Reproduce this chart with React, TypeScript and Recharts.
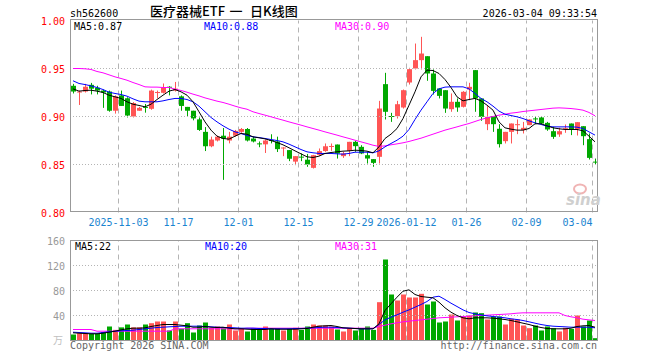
import React from "react";
import { ComposedChart, Bar, Line, XAxis, YAxis, ReferenceLine } from "recharts";

const dates = [
  "2025-10-22", "2025-10-23", "2025-10-24", "2025-10-27", "2025-10-28", "2025-10-29", "2025-10-30", "2025-10-31",
  "2025-11-03", "2025-11-04", "2025-11-05", "2025-11-06", "2025-11-07", "2025-11-10", "2025-11-11", "2025-11-12",
  "2025-11-13", "2025-11-14", "2025-11-17", "2025-11-18", "2025-11-19", "2025-11-20", "2025-11-21", "2025-11-24",
  "2025-11-25", "2025-11-26", "2025-11-27", "2025-11-28", "2025-12-01", "2025-12-02", "2025-12-03", "2025-12-04",
  "2025-12-05", "2025-12-08", "2025-12-09", "2025-12-10", "2025-12-11", "2025-12-12", "2025-12-15", "2025-12-16",
  "2025-12-17", "2025-12-18", "2025-12-19", "2025-12-22", "2025-12-23", "2025-12-24", "2025-12-25", "2025-12-26",
  "2025-12-29", "2025-12-30", "2025-12-31", "2026-01-05", "2026-01-06", "2026-01-07", "2026-01-08", "2026-01-09",
  "2026-01-12", "2026-01-13", "2026-01-14", "2026-01-15", "2026-01-16", "2026-01-19", "2026-01-20", "2026-01-21",
  "2026-01-22", "2026-01-23", "2026-01-26", "2026-01-27", "2026-01-28", "2026-01-29", "2026-01-30", "2026-02-02",
  "2026-02-03", "2026-02-04", "2026-02-05", "2026-02-06", "2026-02-09", "2026-02-10", "2026-02-11", "2026-02-12",
  "2026-02-13", "2026-02-24", "2026-02-25", "2026-02-26", "2026-02-27", "2026-03-02", "2026-03-03", "2026-03-04",
];

const openP = [
  0.932, 0.925, 0.926, 0.933, 0.930, 0.927, 0.926, 0.906, 0.922, 0.919,
  0.900, 0.906, 0.910, 0.908, 0.925, 0.9247, 0.931, 0.927, 0.921, 0.910,
  0.906, 0.897, 0.884, 0.869, 0.875, 0.880, 0.875, 0.880, 0.884, 0.887,
  0.877, 0.872, 0.871, 0.8755, 0.874, 0.8667, 0.865, 0.853, 0.8582, 0.855,
  0.8465, 0.860, 0.864, 0.8688, 0.8708, 0.8587, 0.8642, 0.8736, 0.8684, 0.8597,
  0.8556, 0.858, 0.9337, 0.9005, 0.9003, 0.9094, 0.9354, 0.950, 0.9587, 0.9628,
  0.9448, 0.9292, 0.9274, 0.9076, 0.9153, 0.9101, 0.9281, 0.9483, 0.9188, 0.892,
  0.9003, 0.8872, 0.8743, 0.884, 0.8915, 0.8858, 0.891, 0.898, 0.899, 0.8934,
  0.8847, 0.8813, 0.887, 0.8927, 0.8868, 0.8899, 0.8764, 0.853,
];
const highP = [
  0.934, 0.927, 0.934, 0.935, 0.932, 0.928, 0.927, 0.922, 0.927, 0.920,
  0.915, 0.910, 0.913, 0.928, 0.927, 0.9344, 0.9316, 0.936, 0.922, 0.910,
  0.906, 0.899, 0.889, 0.879, 0.880, 0.888, 0.884, 0.886, 0.888, 0.888,
  0.879, 0.874, 0.876, 0.8815, 0.879, 0.868, 0.865, 0.8587, 0.8615, 0.861,
  0.860, 0.8667, 0.8719, 0.8719, 0.8708, 0.8632, 0.8736, 0.8746, 0.8701, 0.8632,
  0.8556, 0.9163, 0.9455, 0.9038, 0.9163, 0.9281, 0.9507, 0.976, 0.983, 0.9628,
  0.949, 0.9292, 0.9274, 0.924, 0.9188, 0.9264, 0.9351, 0.9483, 0.9188, 0.9108,
  0.9003, 0.892, 0.884, 0.8927, 0.8969, 0.8944, 0.8969, 0.9003, 0.9003, 0.8944,
  0.8892, 0.8882, 0.8917, 0.8927, 0.8941, 0.8899, 0.8823, 0.8562,
];
const lowP = [
  0.924, 0.912, 0.925, 0.923, 0.923, 0.909, 0.905, 0.903, 0.911, 0.899,
  0.899, 0.906, 0.904, 0.907, 0.919, 0.924, 0.922, 0.926, 0.906, 0.900,
  0.896, 0.885, 0.864, 0.868, 0.874, 0.834, 0.872, 0.879, 0.883, 0.874,
  0.873, 0.868, 0.862, 0.872, 0.863, 0.8587, 0.8535, 0.8493, 0.8535, 0.8476,
  0.8458, 0.859, 0.8632, 0.8642, 0.8562, 0.8569, 0.8587, 0.8632, 0.8608, 0.851,
  0.8476, 0.851, 0.8969, 0.8944, 0.8979, 0.9083, 0.9333, 0.949, 0.949, 0.9372,
  0.9229, 0.9188, 0.9038, 0.9049, 0.9049, 0.9094, 0.917, 0.9049, 0.8955, 0.8858,
  0.884, 0.8677, 0.8719, 0.8719, 0.8816, 0.8823, 0.891, 0.892, 0.892, 0.8851,
  0.8767, 0.8788, 0.883, 0.8806, 0.8802, 0.8701, 0.8552, 0.8503,
];
const closeP = [
  0.926, 0.926, 0.931, 0.929, 0.927, 0.925, 0.906, 0.921, 0.911, 0.901,
  0.914, 0.909, 0.909, 0.927, 0.9255, 0.930, 0.930, 0.929, 0.911, 0.906,
  0.898, 0.886, 0.869, 0.876, 0.879, 0.877, 0.879, 0.885, 0.887, 0.875,
  0.874, 0.8715, 0.875, 0.875, 0.866, 0.8677, 0.856, 0.8587, 0.8578, 0.850,
  0.8597, 0.864, 0.869, 0.8693, 0.8615, 0.8615, 0.8736, 0.8691, 0.8615, 0.8562,
  0.8517, 0.9083, 0.9049, 0.900, 0.9128, 0.9274, 0.9493, 0.9587, 0.9656, 0.9448,
  0.9267, 0.9215, 0.9083, 0.9153, 0.9094, 0.9257, 0.9309, 0.9188, 0.8997, 0.8997,
  0.892, 0.8712, 0.884, 0.8927, 0.892, 0.8882, 0.8969, 0.8975, 0.8927, 0.8865,
  0.8788, 0.8847, 0.8878, 0.8865, 0.8941, 0.8795, 0.8569, 0.8525,
];
const ma5 = [
  0.9288, 0.9264, 0.9271, 0.9274, 0.9264, 0.925, 0.9222, 0.9205, 0.9188, 0.9153,
  0.9128, 0.9115, 0.9101, 0.9128, 0.9177, 0.9222, 0.9264, 0.9281, 0.9257, 0.9222,
  0.9153, 0.9049, 0.8944, 0.8858, 0.8795, 0.8771, 0.8764, 0.8795, 0.8823, 0.8816,
  0.8788, 0.8778, 0.8767, 0.875, 0.8729, 0.8705, 0.8674, 0.8642, 0.8611, 0.858,
  0.8573, 0.8587, 0.8615, 0.8625, 0.8632, 0.8639, 0.8642, 0.8649, 0.8646, 0.8639,
  0.8622, 0.8684, 0.8771, 0.8816, 0.8875, 0.8979, 0.9118, 0.9257, 0.9413, 0.9483,
  0.9479, 0.9448, 0.9385, 0.9302, 0.9205, 0.9163, 0.9177, 0.9188, 0.9163, 0.9118,
  0.9066, 0.8944, 0.8882, 0.8868, 0.8858, 0.8858, 0.8875, 0.8924, 0.8924, 0.8903,
  0.8882, 0.8872, 0.8865, 0.8865, 0.8865, 0.8851, 0.8795, 0.8736,
];
const ma10 = [
  0.9372, 0.9344, 0.9333, 0.9319, 0.9302, 0.9281, 0.9253, 0.924, 0.9229, 0.9212,
  0.9184, 0.916, 0.9153, 0.9153, 0.9153, 0.9163, 0.9177, 0.9188, 0.9188, 0.9177,
  0.9153, 0.9108, 0.9049, 0.899, 0.8944, 0.8903, 0.8868, 0.884, 0.8823, 0.8802,
  0.8788, 0.8781, 0.8771, 0.876, 0.875, 0.8736, 0.8712, 0.8684, 0.8656, 0.8632,
  0.8622, 0.8615, 0.8615, 0.8615, 0.8611, 0.8608, 0.8615, 0.8628, 0.8628, 0.8628,
  0.8622, 0.8642, 0.8684, 0.8719, 0.8753, 0.8795, 0.8865, 0.8969, 0.9066, 0.9153,
  0.924, 0.9288, 0.9306, 0.9309, 0.9309, 0.9309, 0.9288, 0.924, 0.9188, 0.9153,
  0.9108, 0.9056, 0.9024, 0.901, 0.8997, 0.8979, 0.8955, 0.8934, 0.8917, 0.8899,
  0.8892, 0.8892, 0.8892, 0.8892, 0.8889, 0.8875, 0.884, 0.8806,
];
const ma30 = [
  0.95, 0.95, 0.9497, 0.949, 0.9469, 0.9455, 0.9434, 0.9413, 0.9396, 0.9378,
  0.9354, 0.9333, 0.9309, 0.9306, 0.9306, 0.9302, 0.9302, 0.9285, 0.9271, 0.9253,
  0.9233, 0.9215, 0.9194, 0.9177, 0.916, 0.9146, 0.9128, 0.9108, 0.909, 0.9076,
  0.9049, 0.9031, 0.9014, 0.8997, 0.8979, 0.8962, 0.8944, 0.8927, 0.891, 0.8892,
  0.8875, 0.8858, 0.884, 0.8823, 0.8806, 0.8788, 0.8771, 0.8753, 0.8736, 0.8719,
  0.8701, 0.8688, 0.8694, 0.8705, 0.8715, 0.8726, 0.874, 0.8757, 0.8774, 0.8795,
  0.8816, 0.8837, 0.8858, 0.8875, 0.8892, 0.891, 0.8927, 0.8948, 0.8969, 0.8986,
  0.9, 0.9014, 0.9024, 0.9035, 0.9042, 0.9052, 0.9059, 0.9066, 0.9073, 0.908,
  0.9087, 0.909, 0.9087, 0.9083, 0.9076, 0.9066, 0.9042, 0.9007,
];

// 成交量（万手）
const volume = [
  9.6, 11.7, 11.7, 10.7, 10.7, 13.3, 22.4, 17, 21, 25.6,
  21, 21, 25.6, 27.7, 30.4, 30.4, 16, 30.4, 18.7, 27.7,
  12.8, 24, 28.8, 20.3, 22.4, 19.7, 25.6, 16, 19.7, 14.4,
  19.7, 18.7, 22.4, 18.7, 19.7, 16, 18.7, 20.3, 17, 22.4,
  25.6, 24, 24, 22.4, 17.6, 14.4, 19.7, 16, 18.7, 22.4,
  17, 61.3, 129.6, 73.6, 64, 73.6, 68.8, 68.8, 74.7, 57.6,
  62.4, 28.8, 30.4, 41.6, 32, 38.4, 40, 44.8, 43.7, 33.6,
  38.4, 38.4, 25.6, 34.7, 33.6, 24, 19.7, 24, 16, 22.4,
  19.7, 14.4, 20.3, 18.7, 40, 22.4, 32, 3.7,
];
const volMa5 = [
  12.3, 11.7, 11.2, 10.7, 10.7, 11.7, 13.3, 14.9, 17, 18.7,
  19.7, 19.7, 20.3, 22.4, 24, 25.6, 25.6, 25.6, 24.5, 23.5,
  21.3, 21.3, 22.4, 21.3, 20.8, 21.3, 19.7, 18.7, 18.7, 18.1,
  17.6, 17.6, 17.6, 18.7, 18.1, 18.1, 18.1, 18.1, 18.7, 19.2,
  21.3, 22.9, 23.5, 24, 22.4, 20.3, 19.7, 19.2, 18.7, 18.7,
  18.7, 26.7, 48, 58.7, 69.3, 78.9, 81.1, 73.6, 70.4, 69.3,
  68.3, 61.3, 52.3, 45.3, 40, 36.3, 34.7, 36.3, 36.3, 36.3,
  35.7, 34.7, 33.6, 32, 29.9, 27.7, 25.6, 22.9, 20.8, 19.2,
  18.7, 18.7, 18.7, 19.7, 22.4, 23.5, 24, 21.3,
];
const volMa10 = [
  13.3, 12.8, 12.3, 11.7, 11.7, 12.8, 13.9, 14.9, 15.5, 16,
  16.5, 17.6, 18.7, 19.7, 20.8, 21.3, 21.9, 22.4, 22.9, 22.9,
  22.9, 22.9, 22.4, 21.9, 21.3, 20.8, 20.8, 20.3, 19.7, 19.7,
  19.7, 19.2, 19.2, 18.7, 18.7, 18.7, 18.7, 19.2, 19.2, 19.7,
  20.3, 20.8, 21.3, 21.3, 20.8, 20.3, 19.7, 19.2, 18.7, 18.7,
  18.7, 25.6, 33, 37.3, 41, 45.3, 49, 53.3, 57.6, 62.4,
  69.3, 70.9, 65.6, 59.7, 54.4, 49, 44.8, 42.7, 41, 39.5,
  38.4, 37.3, 36.3, 34.7, 33.6, 32, 29.9, 27.7, 25.6, 24,
  22.9, 22.4, 21.9, 21.3, 21.3, 21.3, 21.3, 20.3,
];
const volMa30 = [
  17.6, 17.6, 17.6, 17.6, 14.9, 14.9, 14.9, 14.9, 14.9, 14.9,
  14.9, 14.9, 14.9, 14.9, 14.9, 14.9, 14.9, 18.7, 18.7, 18.7,
  18.7, 18.7, 18.7, 18.7, 18.7, 18.7, 18.7, 18.7, 18.7, 19.7,
  19.7, 19.7, 19.7, 19.7, 19.7, 19.7, 19.7, 19.7, 19.7, 19.7,
  19.7, 19.7, 19.7, 19.7, 19.7, 19.7, 19.7, 19.7, 19.7, 19.7,
  19.7, 22.4, 24.5, 26.7, 28.3, 29.9, 30.9, 32, 33, 34.1,
  35.2, 36.3, 36.8, 37.3, 37.9, 38.4, 38.9, 39.5, 40, 40.5,
  41.1, 41.6, 42.1, 42.7, 43.7, 44.3, 44.3, 44.3, 44.3, 44.3,
  44.3, 44.3, 40, 37.9, 36.3, 34.1, 33, 32,
];

const tickDates = ["2025-11-03", "2025-11-17", "2025-12-01", "2025-12-15", "2025-12-29", "2026-01-12", "2026-01-26", "2026-02-09", "2026-03-04"];
const tickLabels = ["2025-11-03", "11-17", "12-01", "12-15", "12-29", "2026-01-12", "01-26", "02-09", "03-04"];
const priceTicks = [0.8, 0.85, 0.9, 0.95, 1.0];
const volTicks = [40, 80, 120, 160];

const RED = "#ff5555";
const GREEN = "#00a800";
const GRID = "#b4b4b4";
const MONO = "'DejaVu Sans Mono', monospace";
const CJK = "'Noto Sans CJK SC', sans-serif";

const rows = dates.map((d, i) => ({
  d,
  open: openP[i],
  high: highP[i],
  low: lowP[i],
  close: closeP[i],
  range: [lowP[i], highP[i]],
  ma5: ma5[i],
  ma10: ma10[i],
  ma30: ma30[i],
  vol: volume[i],
  vma5: volMa5[i],
  vma10: volMa10[i],
  vma30: volMa30[i],
}));

function renderCandle(props: any) {
  const { x, y, height, payload } = props;
  if (!payload) return null;
  const { open, close, high, low } = payload;
  const color = close >= open ? RED : GREEN;
  const top = Math.min(y, y + height);
  const span = Math.abs(height);
  const k = span / (high - low);
  const left = Math.floor(x);
  const cx = left + 2.5;
  const bodyTop = top + (high - Math.max(open, close)) * k;
  const bodyH = Math.max(1, Math.abs(close - open) * k);
  return (
    <g>
      <line x1={cx} x2={cx} y1={top} y2={top + span} stroke={color} />
      <rect x={left} y={bodyTop} width={5} height={bodyH} fill={color} />
    </g>
  );
}

function renderVol(props: any) {
  const { x, y, height, payload } = props;
  if (!payload) return null;
  return <rect x={Math.floor(x)} y={y} width={5} height={height} fill={payload.close >= payload.open ? RED : GREEN} />;
}

function DateTick(props: any) {
  const { x, y, payload } = props;
  const i = tickDates.indexOf(payload.value);
  const last = i === tickDates.length - 1;
  return (
    <text x={x - 2.5} y={y + 5} textAnchor={last ? "end" : "middle"} fill="#1a84d0" fontSize={10} fontFamily={MONO}>
      {tickLabels[i]}
    </text>
  );
}

function PriceTick(props: any) {
  const { x, y, payload } = props;
  return (
    <text x={x} y={y + 4} textAnchor="end" fill="#ff0000" fontSize={10} fontFamily={MONO}>
      {payload.value.toFixed(2)}
    </text>
  );
}

function VolTick(props: any) {
  const { x, y, payload } = props;
  return (
    <text x={x} y={y + 4} textAnchor="end" fill="#999" fontSize={10} fontFamily={MONO}>
      {payload.value}
    </text>
  );
}

const vLine = (p: any) => (
  <line x1={p.x1 + 0.5} y1={p.y1} x2={p.x2 + 0.5} y2={p.y2} stroke={GRID} strokeDasharray="5 4" />
);

export default function App() {
  return (
    <div style={{ position: "absolute", left: 0, top: 0, width: 660, height: 360, background: "#fff" }}>
      <div style={{ position: "absolute", left: 0, top: 0 }}>
        <ComposedChart width={660} height={233} data={rows} margin={{ top: 20.5, right: 62, bottom: 0.5, left: 8 }}>
          <XAxis dataKey="d" ticks={tickDates} interval={0} height={20} axisLine={false} tickLine={false} tickSize={6} tickMargin={2} tick={<DateTick />} />
          <YAxis domain={[0.8, 1.0]} ticks={priceTicks} width={62} axisLine={false} tickLine={false} tickSize={3} tickMargin={2} tick={<PriceTick />} allowDataOverflow />
          {[0.85, 0.9, 0.95].map((v) => (
            <ReferenceLine key={v} y={v} stroke={GRID} strokeDasharray="1 2" />
          ))}
          {tickDates.map((d) => (
            <ReferenceLine key={d} x={d} position="start" stroke={GRID} shape={vLine} />
          ))}
          <Bar dataKey="range" barSize={5} shape={renderCandle} isAnimationActive={false} />
          <Line dataKey="ma30" stroke="#ff00ff" strokeWidth={1} dot={false} activeDot={false} isAnimationActive={false} />
          <Line dataKey="ma10" stroke="#0000ff" strokeWidth={1} dot={false} activeDot={false} isAnimationActive={false} />
          <Line dataKey="ma5" stroke="#000000" strokeWidth={1} dot={false} activeDot={false} isAnimationActive={false} />
        </ComposedChart>
      </div>
      <div style={{ position: "absolute", left: 0, top: 232 }}>
        <ComposedChart width={660} height={128} data={rows} margin={{ top: 8.5, right: 62, bottom: 19.5, left: 8 }}>
          <XAxis dataKey="d" hide />
          <YAxis domain={[0, 160]} ticks={volTicks} width={62} axisLine={false} tickLine={false} tickSize={3} tickMargin={2} tick={<VolTick />} allowDataOverflow />
          {[40, 80, 120].map((v) => (
            <ReferenceLine key={v} y={v} stroke={GRID} strokeDasharray="1 2" />
          ))}
          {tickDates.map((d) => (
            <ReferenceLine key={d} x={d} position="start" stroke={GRID} shape={vLine} />
          ))}
          <Bar dataKey="vol" barSize={5} shape={renderVol} isAnimationActive={false} />
          <Line dataKey="vma30" stroke="#ff00ff" strokeWidth={1} dot={false} activeDot={false} isAnimationActive={false} />
          <Line dataKey="vma10" stroke="#0000ff" strokeWidth={1} dot={false} activeDot={false} isAnimationActive={false} />
          <Line dataKey="vma5" stroke="#000000" strokeWidth={1} dot={false} activeDot={false} isAnimationActive={false} />
        </ComposedChart>
      </div>
      <div style={{ position: "absolute", left: 70, top: 19, width: 528, height: 193, boxSizing: "border-box", border: "1px solid #999", pointerEvents: "none" }} />
      <div style={{ position: "absolute", left: 70, top: 240, width: 528, height: 101, boxSizing: "border-box", border: "1px solid #999", pointerEvents: "none" }} />
      <svg width={660} height={360} style={{ position: "absolute", left: 0, top: 0, pointerEvents: "none" }}>
        <text x={70} y={16.5} fontSize={10} fontFamily={MONO} fill="#000">sh562600</text>
        <text x={150} y={16} fontSize={13} fontFamily={CJK} fontWeight={500} fill="#000">医疗器械ETF</text>
        <text x={236} y={16} fontSize={13} fontFamily={CJK} fontWeight={500} textAnchor="middle" fill="#000">一</text>
        <text x={250} y={16} fontSize={13} fontFamily={CJK} fontWeight={500} fill="#000">日K线图</text>
        <text x={597} y={16.5} fontSize={10} fontFamily={MONO} textAnchor="end" fill="#000">2026-03-04 09:33:54</text>
        <text x={74} y={29.5} fontSize={10} fontFamily={MONO} fill="#000">MA5:0.87</text>
        <text x={204} y={29.5} fontSize={10} fontFamily={MONO} fill="#0000ff">MA10:0.88</text>
        <text x={335} y={29.5} fontSize={10} fontFamily={MONO} fill="#ff00ff">MA30:0.90</text>
        <ellipse cx={580} cy={189} rx={6} ry={4.5} fill="none" stroke="#f0b4b4" strokeWidth={2} />
        <text x={566} y={205} fontSize={15} fontWeight="bold" fontStyle="italic" fontFamily="'DejaVu Sans', sans-serif" fill="#cfcfcf">sina</text>
        <text x={75} y={250} fontSize={10} fontFamily={MONO} fill="#000">MA5:22</text>
        <text x={205} y={250} fontSize={10} fontFamily={MONO} fill="#0000ff">MA10:20</text>
        <text x={335} y={250} fontSize={10} fontFamily={MONO} fill="#ff00ff">MA30:31</text>
        <text x={63} y={344} fontSize={10} fontFamily={CJK} textAnchor="end" fill="#c0c0c0">万</text>
        <text x={70} y={349} fontSize={10} fontFamily={MONO} fill="#666">Copyright 2026 SINA.COM</text>
        <text x={597} y={349} fontSize={10} fontFamily={MONO} textAnchor="end" fill="#666">http://finance.sina.com.cn</text>
      </svg>
    </div>
  );
}
